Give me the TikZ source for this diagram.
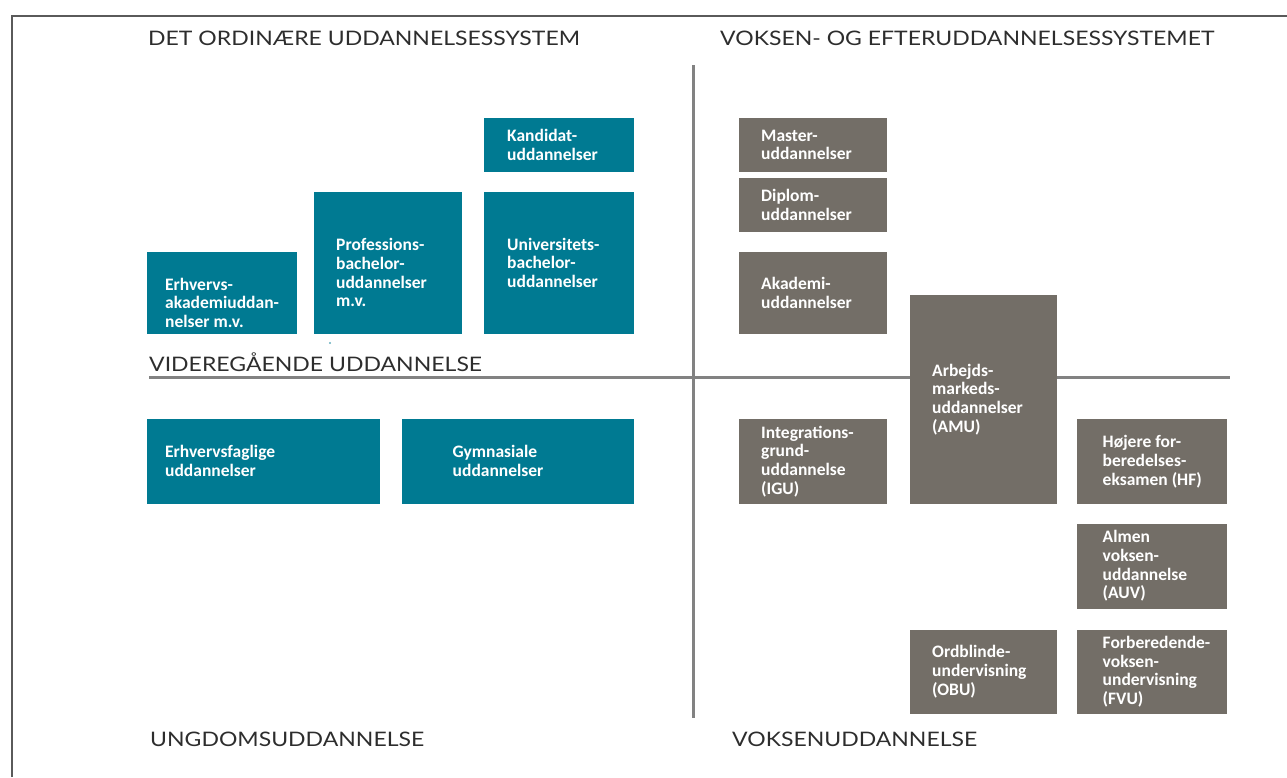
\documentclass[tikz,border=0pt]{standalone}
\usepackage{fontspec}
\newfontfamily\boxfont{Carlito}
\newfontfamily\headfont[FakeStretch=1.15]{Lato}
\definecolor{teal1}{RGB}{0,122,146}
\definecolor{grey1}{RGB}{115,110,103}
\definecolor{headgrey}{RGB}{45,45,45}
\definecolor{linegrey}{RGB}{130,130,130}
\definecolor{bordergrey}{RGB}{90,90,90}
\tikzset{
  tbox/.style={fill=teal1, draw=none, inner sep=0pt, outer sep=0pt},
  gbox/.style={fill=grey1, draw=none, inner sep=0pt, outer sep=0pt},
  lbl/.style={font=\boxfont\bfseries\fontsize{17.5}{18.7}\selectfont, text=white, align=left, inner sep=0pt, anchor=west},
  head/.style={font=\headfont\fontsize{20}{24}\selectfont, text=headgrey, inner sep=0pt, anchor=base west},
}
\newcommand{\mkbox}[6]{%
  \node[#2, minimum width={(#5-#3)*1pt}, minimum height={(#6-#4)*1pt}] (#1) at ({(#3+#5)/2},{(#4+#6)/2}) {};}
\begin{document}
\begin{tikzpicture}[x=1pt,y=-1pt]
\useasboundingbox (0,0) rectangle (1287,777);
% frame
\draw[bordergrey, line width=2pt] (12,777) -- (12,15.5) -- (1287,15.5);
% dividers
\draw[linegrey, line width=2.6pt] (693.5,65) -- (693.5,718);
\draw[linegrey, line width=2.6pt] (149,377.5) -- (1230,377.5);
% headings
\node[head] (h1) at (148,45) {DET ORDINÆRE UDDANNELSESSYSTEM};
\node[head] (h2) at (720,45) {VOKSEN- OG EFTERUDDANNELSESSYSTEMET};
\node[head] (h3) at (149,371.5) {VIDEREGÅENDE UDDANNELSE};
\node[head] (h4) at (150,746) {UNGDOMSUDDANNELSE};
\node[head] (h5) at (732,746) {VOKSENUDDANNELSE};
% teal boxes
\mkbox{kand}{tbox}{484}{118}{634}{172}
\mkbox{univ}{tbox}{484}{191.5}{634}{334}
\mkbox{prof}{tbox}{314}{191.5}{462}{334}
\mkbox{erhv}{tbox}{146.5}{251.5}{297}{334}
\mkbox{erhf}{tbox}{146.5}{418.5}{380}{504}
\mkbox{gymn}{tbox}{401.5}{418.5}{634}{504}
\fill[teal1!60] (330,343) circle (1.2);
% grey boxes
\mkbox{master}{gbox}{738.5}{118}{887}{172}
\mkbox{diplom}{gbox}{738.5}{178}{887}{231.5}
\mkbox{akad}{gbox}{738.5}{251.5}{887}{334}
\mkbox{amu}{gbox}{909.5}{294.5}{1057}{504}
\mkbox{igu}{gbox}{738.5}{419}{887}{504}
\mkbox{hf}{gbox}{1077}{419}{1227}{504}
\mkbox{auv}{gbox}{1077}{523.5}{1227}{608.5}
\mkbox{obu}{gbox}{909.5}{629.5}{1057}{714}
\mkbox{fvu}{gbox}{1077}{629.5}{1227}{714}
% labels
\node[lbl] (kand-t) at ([xshift=23pt]kand.west) {Kandidat-\\uddannelser};
\node[lbl] (univ-t) at ([xshift=23pt]univ.west) {Universitets-\\bachelor-\\uddannelser};
\node[lbl] (prof-t) at ([xshift=22pt,yshift=-10pt]prof.west) {Professions-\\bachelor-\\uddannelser\\m.v.};
\node[lbl] (erhv-t) at ([xshift=18.5pt,yshift=-10pt]erhv.west) {Erhvervs-\\akademiuddan-\\nelser m.v.};
\node[lbl] (erhf-t) at ([xshift=18.5pt]erhf.west) {Erhvervsfaglige\\uddannelser};
\node[lbl] (gymn-t) at ([xshift=51pt]gymn.west) {Gymnasiale\\uddannelser};
\node[lbl] (master-t) at ([xshift=22.5pt]master.west) {Master-\\uddannelser};
\node[lbl] (diplom-t) at ([xshift=22.5pt]diplom.west) {Diplom-\\uddannelser};
\node[lbl] (akad-t) at ([xshift=22.5pt]akad.west) {Akademi-\\uddannelser};
\node[lbl] (amu-t) at ([xshift=22.5pt]amu.west) {Arbejds-\\markeds-\\uddannelser\\(AMU)};
\node[lbl] (igu-t) at ([xshift=22.5pt]igu.west) {Integrations-\\grund-\\uddannelse\\(IGU)};
\node[lbl] (hf-t) at ([xshift=25.5pt]hf.west) {Højere for-\\beredelses-\\eksamen (HF)};
\node[lbl] (auv-t) at ([xshift=25.5pt]auv.west) {Almen\\voksen-\\uddannelse\\(AUV)};
\node[lbl] (obu-t) at ([xshift=22.5pt]obu.west) {Ordblinde-\\undervisning\\(OBU)};
\node[lbl] (fvu-t) at ([xshift=25.5pt]fvu.west) {Forberedende-\\voksen-\\undervisning\\(FVU)};
\end{tikzpicture}
\end{document}
